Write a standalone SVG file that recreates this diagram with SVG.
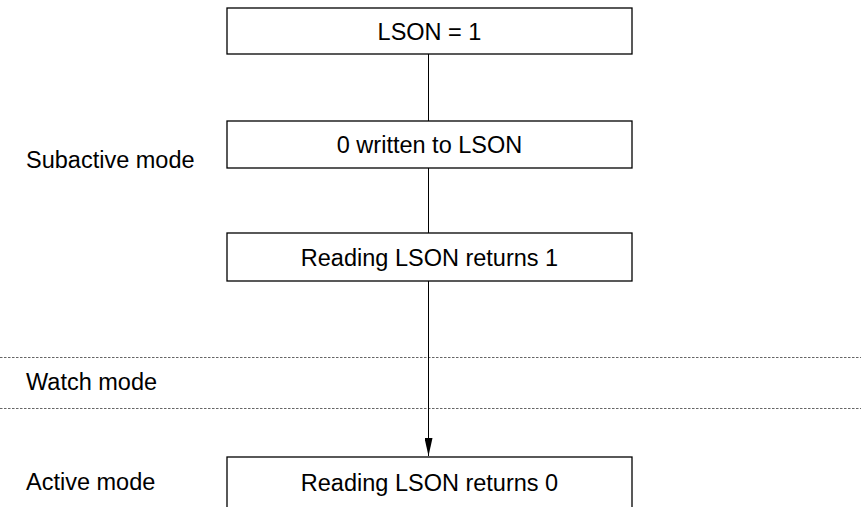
<svg xmlns="http://www.w3.org/2000/svg" width="861" height="507" viewBox="0 0 861 507">
<style>
.box{fill:#fff;stroke:#000;stroke-width:1.3}
.t{font-family:"Liberation Sans",Arial,sans-serif;font-size:23.5px;fill:#000}
.c{text-anchor:middle}
.line{stroke:#000;stroke-width:1;fill:none}
.dot{stroke:#666;stroke-width:1;stroke-dasharray:2.5,1.5;fill:none}
</style>
<defs>
<marker id="arr" viewBox="0 0 18 8" refX="18" refY="4" markerWidth="18" markerHeight="8" markerUnits="userSpaceOnUse" orient="auto">
<path d="M0,0 L18,4 L0,8 Z" fill="#000"/>
</marker>
</defs>
<rect width="861" height="507" fill="#fff"/>
<g id="separators">
<line class="dot" x1="0" y1="357.5" x2="861" y2="357.5"/>
<line class="dot" x1="0" y1="408.5" x2="861" y2="408.5"/>
</g>
<g id="labels">
<text class="t" x="26" y="167.5">Subactive mode</text>
<text class="t" x="26" y="390">Watch mode</text>
<text class="t" x="26" y="489.5">Active mode</text>
</g>
<g id="connectors">
<line class="line" x1="428.5" y1="54" x2="428.5" y2="121"/>
<line class="line" x1="428.5" y1="168" x2="428.5" y2="233"/>
<line class="line" x1="428.5" y1="281" x2="428.5" y2="456" marker-end="url(#arr)"/>
</g>
<g id="n1"><rect class="box" x="227" y="8" width="405" height="46"/><text class="t c" x="429.5" y="39.5">LSON = 1</text></g>
<g id="n2"><rect class="box" x="227" y="121" width="405" height="47"/><text class="t c" x="429.5" y="153">0 written to LSON</text></g>
<g id="n3"><rect class="box" x="227" y="233" width="405" height="48"/><text class="t c" x="429.5" y="266">Reading LSON returns 1</text></g>
<g id="n4"><rect class="box" x="227" y="457" width="405" height="52"/><text class="t c" x="429.5" y="491">Reading LSON returns 0</text></g>
</svg>
